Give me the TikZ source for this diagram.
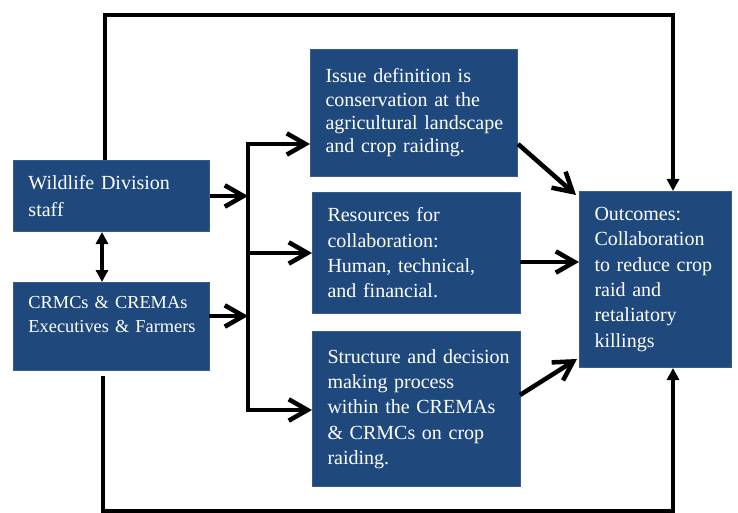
\documentclass[tikz,border=0pt]{standalone}
\usepackage{fontspec}
\setmainfont{Liberation Serif}
\usepackage{tikz}
\usetikzlibrary{arrows.meta,positioning,calc}
\definecolor{wdblue}{RGB}{31,73,125}
\definecolor{wdedge}{RGB}{56,93,138}
\hyphenpenalty=10000
\exhyphenpenalty=10000

\begin{document}
\begin{tikzpicture}[x=0.75pt, y=-0.75pt,
	wdbox/.style={draw=wdedge, line width=0.75pt, rectangle, fill=wdblue, text=white, anchor=north west, align=left, inner xsep=11.25pt, font=\fontsize{15}{19}\selectfont},
	flow/.style={line width=3.4pt},
	barb/.style={-{Straight Barb[length=14pt, width=16pt]}},
	tri/.style={-{Triangle[length=9pt, width=9pt]}}]
	\useasboundingbox (0,0) rectangle (738,513);
	\node[wdbox, text width=124.5pt, minimum height=53.25pt, font=\fontsize{15}{20.25}\selectfont] (wds) at (13,160) {Wildlife Division\\staff};
	\node[wdbox, text width=124.5pt, minimum height=66pt, font=\fontsize{13.75}{18}\selectfont] (crmc) at (13,282) {CRMCs~\&~CREMAs\\Executives~\&~Farmers\\ \mbox{}};
	\node[wdbox, text width=132.75pt, minimum height=95.25pt, font=\fontsize{15}{17.5}\selectfont] (issue) at (310,49) {Issue definition is\\conservation at the\\agricultural~landscape\\and crop raiding.\\[-6pt]};
	\node[wdbox, text width=133.5pt, minimum height=90.75pt] (res) at (312,192) {Resources for\\collaboration:\\Human, technical,\\and financial.};
	\node[wdbox, text width=133.5pt, minimum height=116.25pt] (struct) at (312,331) {Structure~and~decision\\making process\\within the CREMAs\\\& CRMCs on crop\\raiding.};
	\node[wdbox, text width=91.5pt, minimum height=132pt] (out) at (579,191) {Outcomes:\\Collaboration\\to reduce crop\\raid and\\retaliatory\\killings};

	% corner points of the loops and the fork
	\coordinate (topl) at (105,15);
	\coordinate (topr) at (673,15);
	\coordinate (botl) at (103,511);
	\coordinate (botr) at (673,511);
	\coordinate (dbl) at (102,0);
	\coordinate (trunkt) at (248,144);
	\coordinate (trunkb) at (248,410);
	\coordinate (crmcout) at (209,316);
	\coordinate (resout) at (520,262);
	\coordinate (structout) at (520,395);

	\draw[flow, tri] (wds.north -| topl) -- (topl) -- (topr) -- (out.north -| topr);
	\draw[flow, tri, shorten <=4pt] (crmc.south -| botl) -- (botl) -- (botr) -- (out.south -| botr);
	\draw[flow, {Triangle[length=9pt, width=9pt]}-{Triangle[length=9pt, width=9pt]}] (wds.south -| dbl) -- (crmc.north -| dbl);
	\draw[flow, barb] (wds.east) -- (wds.east -| trunkt);
	\draw[flow, barb] (crmcout) -- (crmcout -| trunkt);
	\draw[flow, barb] (trunkb) -- (trunkt) -- (issue.west |- trunkt);
	\draw[flow, barb] (trunkt) -- (trunkb) -- (struct.west |- trunkb);
	\draw[flow, barb] (res.west -| trunkt) -- (res.west);
	\draw[flow, barb] (issue.east |- trunkt) -- ([shift={(-3,4)}]out.north west);
	\draw[flow, barb] (resout) -- (out.west |- resout);
	\draw[flow, barb] (structout) -- ([shift={(-2,-9)}]out.south west);
\end{tikzpicture}
\end{document}
